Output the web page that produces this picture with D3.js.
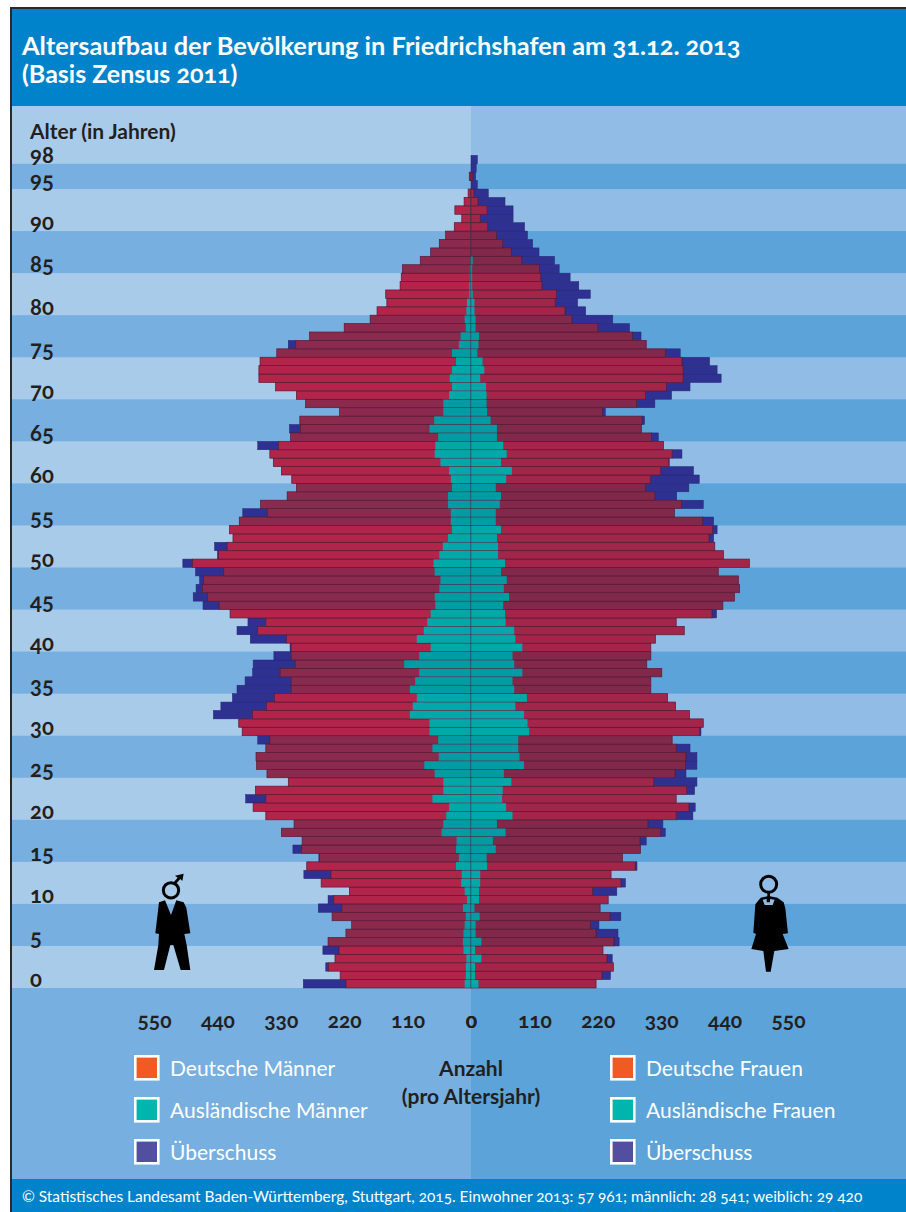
<!DOCTYPE html>
<html>
<head>
<meta charset="utf-8">
<script src="https://cdn.jsdelivr.net/npm/d3@7"></script>
<style>
html, body { margin: 0; padding: 0; background: #fff; }
svg { display: block; }
text { font-family: Lato, "Open Sans", sans-serif; font-variant-numeric: oldstyle-nums; font-feature-settings: "onum"; }
</style>
</head>
<body>
<div id="chart"></div>
<script>
// values per age, index = age 0..98
var maennerGesamt = [291,227,252,236,257,248,217,207,241,265,248,211,260,290,285,264,309,293,329,307,
	356,378,391,374,317,354,372,373,356,370,397,403,447,434,414,406,392,379,378,342,
	314,383,406,387,418,465,482,477,471,478,500,440,445,413,419,402,396,365,319,303,
	311,329,343,349,370,313,315,297,228,287,303,339,368,368,366,337,317,280,220,175,
	163,146,148,123,121,119,88,70,55,44,29,16,28,12,5,0,3,0,0];
var frauenGesamt = [217,242,247,245,229,257,255,222,260,224,238,253,268,243,288,263,294,304,337,333,
	385,389,356,388,392,373,392,392,380,349,399,403,379,355,341,312,312,331,305,312,
	312,320,370,356,426,437,457,466,464,429,483,438,423,421,427,421,353,403,357,378,
	396,386,344,366,334,325,296,301,233,319,348,380,434,427,414,363,304,295,275,246,
	199,185,207,187,172,153,145,118,107,98,93,73,73,59,30,11,8,9,11];
var auslaenderM = [11,9,9,8,13,14,13,11,9,14,7,11,17,16,26,21,26,25,51,48,
	43,38,67,48,48,63,81,56,67,57,72,72,106,101,94,106,97,90,116,90,
	70,94,82,76,70,62,63,55,53,63,65,55,49,40,33,35,35,40,40,33,
	35,38,53,63,62,57,72,64,48,48,38,33,37,33,26,33,21,18,9,11,
	8,7,3,3,2,2,1,0,0,0,0,0,0,0,0,0,0,0,0];
var auslaenderF = [13,7,7,18,7,18,8,8,15,6,14,14,16,16,28,27,43,38,60,45,
	72,61,54,55,70,57,92,84,82,82,101,98,92,77,97,75,72,89,75,72,
	89,77,75,60,59,56,66,57,62,52,59,47,47,45,52,43,43,50,52,43,
	61,71,52,62,56,45,45,34,28,27,27,26,16,23,20,11,13,14,8,8,
	6,6,3,2,2,2,3,0,0,0,0,0,0,0,0,0,0,0,0];

var alterTicks = [0,5,10,15,20,25,30,35,40,45,50,55,60,65,70,75,80,85,90,95,98];
var anzahlTicks = [0,110,220,330,440,550];
var legendeM = ['Deutsche Männer', 'Ausländische Männer', 'Überschuss'];
var legendeF = ['Deutsche Frauen', 'Ausländische Frauen', 'Überschuss'];
var legendeFarben = ['#f15a22', '#00b5ad', '#524ea0'];

var width = 906, height = 1212;
var mitte = 471, pxMax = 317;
var dunkel = '#231f20';

var alter = d3.range(0, 99);
var rows = alter.map(function(a) {
	return {age: a, m: maennerGesamt[a], f: frauenGesamt[a], am: auslaenderM[a], af: auslaenderF[a]};
});

var x1 = d3.scaleLinear().domain([0, 550]).range([mitte, mitte - pxMax]);
var x2 = d3.scaleLinear().domain([0, 550]).range([mitte, mitte + pxMax]);
var y = d3.scaleBand().domain(alter.slice().reverse()).range([155.4, 988]).padding(0);

var svg = d3.select('#chart').append('svg').attr('width', width).attr('height', height);

// frame and backgrounds
svg.append('rect').attr('x', 10).attr('y', 7).attr('width', width - 10).attr('height', height - 7).attr('fill', '#2b2a2b');
svg.append('rect').attr('x', 12).attr('y', 106).attr('width', mitte - 12).attr('height', 883).attr('fill', '#a9cbea');
svg.append('rect').attr('x', mitte).attr('y', 106).attr('width', width - mitte).attr('height', 883).attr('fill', '#90bce5');
var gruppen = d3.range(1, 20, 2);
[[12, mitte - 12, '#77afe0'], [mitte, width - mitte, '#5ca3da']].forEach(function(s) {
	svg.selectAll(null).data(gruppen).enter().append('rect')
		.attr('x', s[0]).attr('width', s[1])
		.attr('y', function(k) { return y(Math.min(5 * k + 4, 97)); })
		.attr('height', function(k) { return y(5 * k) + y.bandwidth() - y(Math.min(5 * k + 4, 97)); })
		.attr('fill', s[2]);
	svg.append('rect').attr('x', s[0]).attr('y', 988).attr('width', s[1]).attr('height', 191).attr('fill', s[2]);
});
svg.append('rect').attr('x', 12).attr('y', 9).attr('width', width - 12).attr('height', 97).attr('fill', '#0083ca');
svg.append('rect').attr('x', 12).attr('y', 1179).attr('width', width - 12).attr('height', 33).attr('fill', '#0083ca');

function isDark(a) { return Math.floor(a / 5) % 2 == 1; }
function rot(d, seite) {
	if (seite == 'm') return isDark(d.age) ? '#8c2a4e' : '#b2244a';
	return isDark(d.age) ? '#82284a' : '#a32549';
}
function teal(d) { return isDark(d.age) ? '#009ca3' : '#00a8a8'; }

// surplus, common part and foreigners on one side of the pyramid
function seite(x, key, keyA, name) {
	var g = svg.append('g').attr('class', 'seite-' + name);
	g.selectAll('.ueber').data(rows.filter(function(d) { return d[key] > Math.min(d.m, d.f); })).enter().append('rect')
		.attr('class', 'ueber')
		.attr('x', function(d) { return Math.min(x(d[key]), x(Math.min(d.m, d.f))); })
		.attr('width', function(d) { return Math.abs(x(d[key]) - x(Math.min(d.m, d.f))); })
		.attr('y', function(d) { return y(d.age); })
		.attr('height', y.bandwidth())
		.attr('fill', '#2e3192')
		.attr('stroke', '#26276f').attr('stroke-width', 0.5);
	g.selectAll('.rot').data(rows.filter(function(d) { return Math.min(d.m, d.f) > 0; })).enter().append('rect')
		.attr('class', 'rot')
		.attr('x', function(d) { return Math.min(x(0), x(Math.min(d.m, d.f))); })
		.attr('width', function(d) { return Math.abs(x(0) - x(Math.min(d.m, d.f))); })
		.attr('y', function(d) { return y(d.age); })
		.attr('height', y.bandwidth())
		.attr('fill', function(d) { return rot(d, name); })
		.attr('stroke', '#561a33').attr('stroke-width', 0.7);
	g.selectAll('.teal').data(rows.filter(function(d) { return d[keyA] > 0; })).enter().append('rect')
		.attr('class', 'teal')
		.attr('x', function(d) { return Math.min(x(0), x(d[keyA])); })
		.attr('width', function(d) { return Math.abs(x(0) - x(d[keyA])); })
		.attr('y', function(d) { return y(d.age) + 0.3; })
		.attr('height', y.bandwidth() - 0.6)
		.attr('fill', teal);
}
seite(x1, 'm', 'am', 'm');
seite(x2, 'f', 'af', 'f');
svg.append('line').attr('x1', mitte).attr('x2', mitte).attr('y1', y(94)).attr('y2', 988)
	.attr('stroke', '#1c5f6e').attr('stroke-width', 0.6).attr('stroke-opacity', 0.8);

// age labels
svg.append('text').attr('x', 30).attr('y', 139).attr('font-size', 21).attr('font-weight', 700).attr('fill', dunkel).text('Alter (in Jahren)');
svg.selectAll('.alter').data(alterTicks).enter().append('text')
	.attr('class', 'alter')
	.attr('x', 30)
	.attr('y', function(d) { return y(d) + y.bandwidth() / 2; })
	.attr('dy', '0.16em')
	.attr('font-size', 22).attr('font-weight', 700).attr('fill', dunkel)
	.text(function(d) { return d; });

// count axes
[x1, x2].forEach(function(x) {
	var ax = svg.append('g').attr('transform', 'translate(0,1013)')
		.call(d3.axisBottom(x).tickValues(anzahlTicks).tickSize(0).tickPadding(0));
	ax.select('.domain').remove();
	ax.selectAll('text').attr('font-size', 21).attr('font-weight', 700).attr('fill', dunkel)
		.style('font-family', 'Lato, "Open Sans", sans-serif');
});
svg.append('text').attr('x', mitte).attr('y', 1076).attr('text-anchor', 'middle').attr('font-size', 21).attr('font-weight', 700).attr('fill', dunkel).text('Anzahl');
svg.append('text').attr('x', mitte).attr('y', 1104).attr('text-anchor', 'middle').attr('font-size', 21).attr('font-weight', 700).attr('fill', dunkel).text('(pro Altersjahr)');

// legends
function legende(namen, xPos) {
	var g = svg.selectAll(null).data(namen).enter().append('g')
		.attr('transform', function(d, i) { return 'translate(' + xPos + ',' + (1055 + i * 42) + ')'; });
	g.append('rect').attr('x', 1.3).attr('y', 1.3).attr('width', 23).attr('height', 23)
		.attr('fill', function(d, i) { return legendeFarben[i]; })
		.attr('stroke', '#fff').attr('stroke-width', 2.6);
	g.append('text').attr('x', 36).attr('y', 21).attr('font-size', 21).attr('fill', '#fff')
		.text(function(d) { return d; });
}
legende(legendeM, 134);
legende(legendeF, 610);

// title and footer
svg.append('text').attr('x', 22).attr('y', 55).attr('font-size', 25.4).attr('font-weight', 700).attr('fill', '#fff').text('Altersaufbau der Bevölkerung in Friedrichshafen am 31.12. 2013');
svg.append('text').attr('x', 22).attr('y', 83).attr('font-size', 25).attr('font-weight', 700).attr('fill', '#fff').text('(Basis Zensus 2011)');
svg.append('text').attr('x', 22).attr('y', 1202).attr('font-size', 15.45).attr('fill', '#fff').text('© Statistisches Landesamt Baden-Württemberg, Stuttgart, 2015. Einwohner 2013: 57 961; männlich: 28 541; weiblich: 29 420');

// pictograms
var mann = svg.append('g').attr('transform', 'translate(145,865) scale(0.3333)');
mann.append('circle').attr('cx', 78).attr('cy', 76).attr('r', 23).attr('fill', 'none').attr('stroke', '#000').attr('stroke-width', 9);
mann.append('path').attr('d', 'M92 58 L106 42 L112 48 L116 26 L90 32 L98 38 L86 52 Z').attr('fill', '#000');
mann.append('path').attr('fill', '#000').attr('d', 'M42 112 L60 106 L78 150 L94 106 L116 112 L124 128 L136 205 L118 207 L125 240 L136 315 L107 315 L85 240 L76 240 L57 315 L27 315 L40 240 L42 207 L31 205 Z');
var frau = svg.append('g').attr('transform', 'translate(742,865) scale(0.3333)');
frau.append('circle').attr('cx', 80).attr('cy', 58).attr('r', 24).attr('fill', 'none').attr('stroke', '#000').attr('stroke-width', 9);
frau.append('path').attr('fill', '#000').attr('d', 'M76 84 L84 84 L84 94 L106 98 L125 112 L130 130 L138 205 L122 207 L140 252 L97 258 L86 320 L72 320 L64 258 L28 252 L42 207 L34 203 L40 118 L56 98 L76 94 Z');
frau.append('path').attr('fill', '#8fbce4').attr('d', 'M62 104 L74 102 L74 112 L84 112 L84 102 L98 104 L92 120 L68 120 Z');
</script>
</body>
</html>
